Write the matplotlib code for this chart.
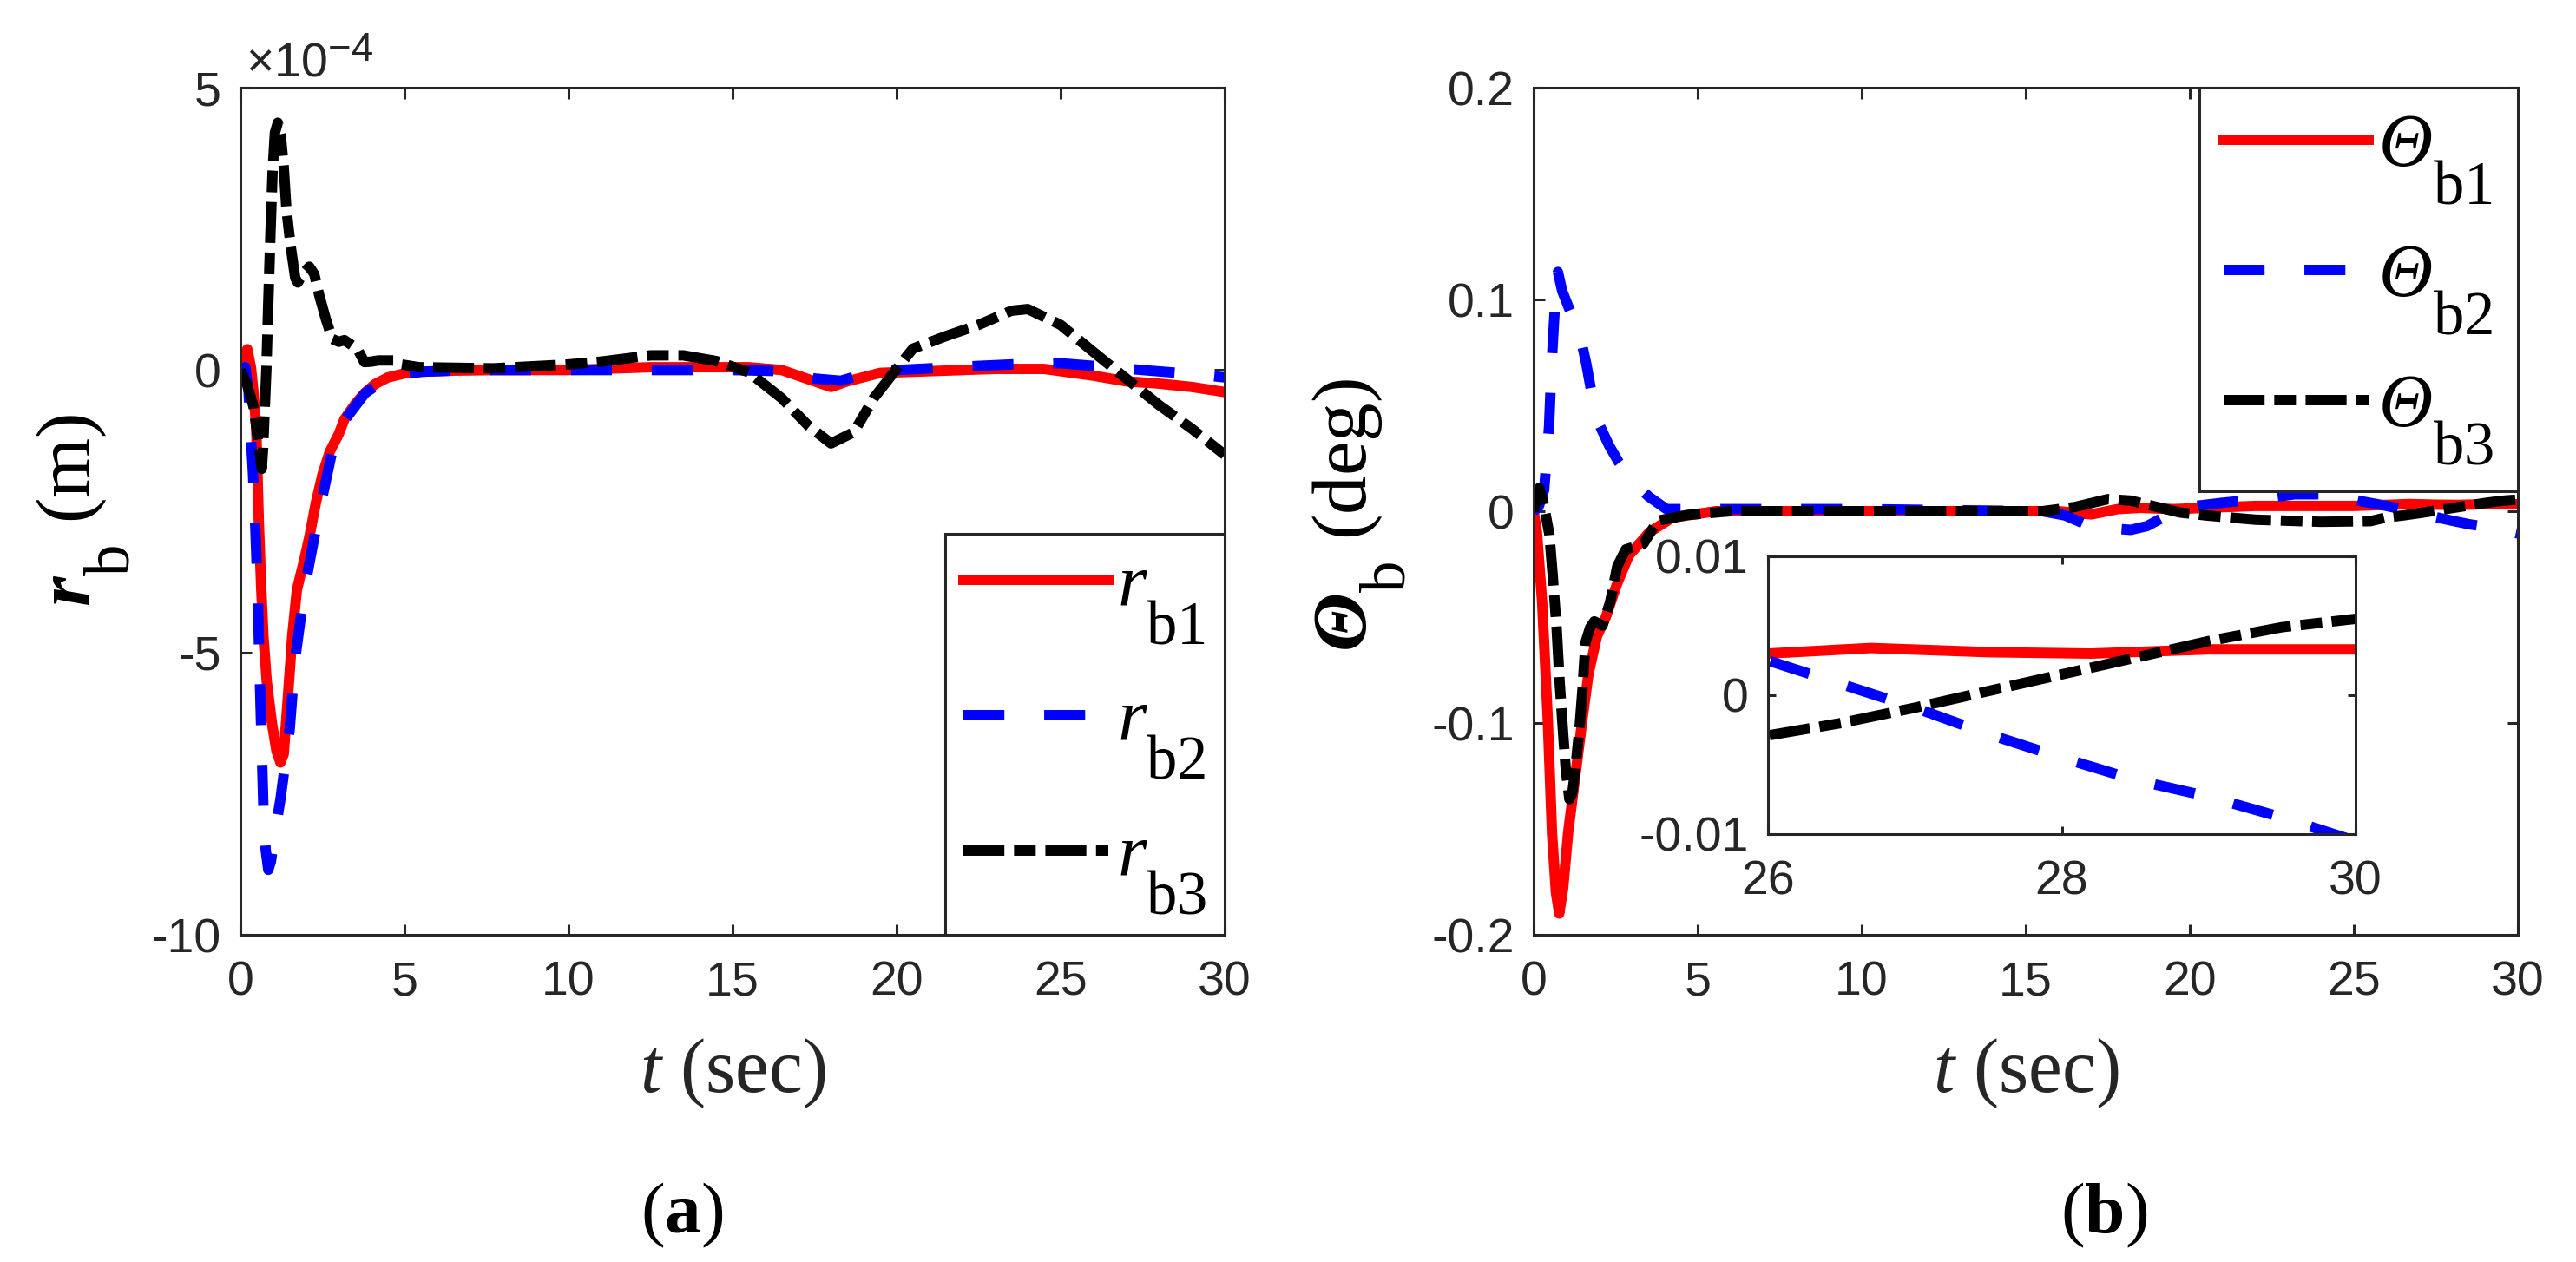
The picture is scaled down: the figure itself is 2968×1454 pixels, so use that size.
"""
Two-panel response plot: r_b (m) and Theta_b (deg) versus time, with a zoom inset
"""

import matplotlib
matplotlib.use("Agg")
import matplotlib.pyplot as plt
import matplotlib._mathtext as mathtext_impl
from matplotlib.ticker import FuncFormatter

# ---------------------------------------------------------------- data
# panel (a): r_b in units of 1e-4 m
t_rb1 = [0, 0.1, 0.21, 0.32, 0.4, 0.48, 0.56, 0.63, 0.7, 0.8, 0.96, 1.1, 1.22,
         1.32, 1.45, 1.58, 1.72, 1.8, 1.95, 2.11, 2.3, 2.5, 2.72, 3.0, 3.17,
         3.5, 3.78, 4.1, 4.5, 5.0, 5.55, 6.5, 7.75, 10, 12.5, 15.5, 16.5, 17.5,
         18, 18.5, 19.5, 20.5, 23, 24.5, 26, 27, 28, 29, 30]
r_b1 = [0, 0.25, 0.37, 0.05, -0.4, -1.0, -2.67, -3.8, -4.7, -5.5, -6.25, -6.75,
        -6.95, -6.8, -5.77, -4.7, -3.9, -3.7, -3.35, -2.93, -2.35, -1.85, -1.45,
        -1.13, -0.87, -0.6, -0.41, -0.25, -0.13, -0.06, -0.03, -0.01, 0, 0,
        0.05, 0.05, 0, -0.2, -0.3, -0.2, -0.05, -0.03, 0.02, 0.02, -0.1, -0.2,
        -0.24, -0.3, -0.39]

t_rb2 = [0, 0.15, 0.25, 0.32, 0.38, 0.45, 0.53, 0.58, 0.64, 0.7, 0.77, 0.85,
         0.93, 1.05, 1.22, 1.5, 1.67, 1.96, 2.36, 2.8, 3.2, 3.8, 4.5, 5.5, 7,
         10, 15, 16.5, 17.5, 18.3, 19, 20, 22, 23.5, 25, 26.5, 27.5, 29, 30]
r_b2 = [0, 0.05, -0.4, -1.2, -1.8, -2.72, -3.99, -5.23, -6.5, -7.74, -8.5,
        -8.85, -8.7, -8.2, -7.6, -6.37, -5.11, -3.86, -2.63, -1.43, -0.87,
        -0.41, -0.13, -0.03, 0, 0, 0, -0.02, -0.15, -0.19, -0.07, 0, 0.06, 0.1,
        0.12, 0.05, 0, -0.07, -0.13]

t_rb3 = [0, 0.2, 0.4, 0.55, 0.65, 0.69, 0.79, 0.85, 0.92, 0.98, 1.05, 1.14,
         1.23, 1.32, 1.4, 1.53, 1.67, 1.75, 1.9, 2.1, 2.25, 2.4, 2.6, 2.8, 3.0,
         3.17, 3.57, 3.78, 4.0, 4.2, 4.66, 4.9, 5.45, 7.7, 10, 11, 12.5, 13.5,
         14.5, 15.5, 16.5, 17.3, 18, 18.7, 19.3, 20, 20.5, 21.5, 22.5, 23.5, 24,
         25, 26, 27, 28, 29, 30]
r_b3 = [0, -0.25, -0.65, -1.3, -1.75, -1.4, 0, 1.2, 2.5, 3.5, 4.2, 4.38, 4.15,
        3.6, 2.86, 2.2, 1.63, 1.55, 1.7, 1.83, 1.7, 1.33, 0.91, 0.55, 0.5,
        0.53, 0.37, 0.14, 0.15, 0.17, 0.17, 0.1, 0.05, 0.03, 0.1, 0.15, 0.26,
        0.26, 0.16, -0.04, -0.5, -0.98, -1.3, -1.1, -0.5, 0.02, 0.38, 0.6, 0.8,
        1.05, 1.08, 0.8, 0.32, -0.15, -0.62, -1.04, -1.5]

# panel (b): Theta_b in deg
t_th1 = [0, 0.1, 0.26, 0.43, 0.56, 0.68, 0.78, 0.9, 1.05, 1.27, 1.49, 1.67,
         1.93, 2.2, 2.55, 2.9, 3.52, 4.23, 5.55, 10, 15, 16, 17, 17.8, 18.5,
         19.5, 20.5, 22, 25, 26, 26.7, 27.5, 28.2, 29, 30]
th_b1 = [0, -0.01, -0.043, -0.098, -0.152, -0.18, -0.19, -0.178, -0.152,
         -0.125, -0.098, -0.077, -0.059, -0.05, -0.034, -0.021, -0.01, -0.003,
         0, 0, 0, 0, -0.0015, 0.001, 0.0016, 0.001, 0.0016, 0.0025, 0.0025,
         0.003, 0.0034, 0.0031, 0.003, 0.0033, 0.0033]

t_th2 = [0, 0.15, 0.32, 0.47, 0.55, 0.66, 0.74, 0.87, 1.1, 1.4, 1.6, 1.8, 2.0,
         2.3, 2.6, 3.1, 3.5, 4.05, 5, 10, 15.5, 16.2, 16.8, 17.5, 18.2, 18.7,
         19.3, 19.9, 21, 22.1, 23.2, 24.2, 25.3, 26, 26.5, 27, 27.5, 28, 28.5,
         29, 29.5, 30]
th_b2 = [0, 0.002, 0.01, 0.04, 0.07, 0.1, 0.113, 0.104, 0.095, 0.084, 0.07,
         0.053, 0.041, 0.031, 0.023, 0.013, 0.007, 0.001, 0.001, 0.001, 0,
         -0.002, -0.006, -0.008, -0.0088, -0.007, -0.002, 0.002, 0.004, 0.0057,
         0.008, 0.008, 0.0045, 0.0025, 0.0008, -0.0009, -0.0028, -0.0045,
         -0.0061, -0.0073, -0.0088, -0.0105]

t_th3 = [0, 0.1, 0.17, 0.3, 0.48, 0.58, 0.7, 0.79, 0.9, 0.98, 1.09, 1.18, 1.27,
         1.4, 1.49, 1.58, 1.72, 1.85, 2.1, 2.33, 2.55, 2.81, 3.34, 3.78, 4.67,
         6, 10, 15.5, 16.5, 17.5, 18.2, 19, 19.7, 20.5, 22, 24, 25.5, 26, 26.5,
         27, 27.5, 28, 28.5, 29, 29.5, 30]
th_b3 = [0, 0.007, 0.011, 0.004, -0.011, -0.03, -0.055, -0.08, -0.105, -0.122,
         -0.136, -0.133, -0.122, -0.102, -0.084, -0.062, -0.055, -0.052, -0.054,
         -0.043, -0.026, -0.018, -0.0155, -0.0045, -0.0018, 0, 0, 0, 0.002,
         0.0057, 0.005, 0.002, -0.0006, -0.002, -0.004, -0.005, -0.0047,
         -0.0029, -0.002, -0.0009, 0.0003, 0.0015, 0.0027, 0.0039, 0.0049,
         0.0055]

labels_r = [r'$r_{\mathsf{b1}}$', r'$r_{\mathsf{b2}}$', r'$r_{\mathsf{b3}}$']
labels_th = [r'$\mathcal{\Theta}_{\mathsf{b1}}$', r'$\mathcal{\Theta}_{\mathsf{b2}}$',
             r'$\mathcal{\Theta}_{\mathsf{b3}}$']

# ---------------------------------------------------------------- style
plt.rcParams['font.family'] = ['Liberation Sans', 'DejaVu Sans']
plt.rcParams['axes.unicode_minus'] = False
plt.rcParams['mathtext.fontset'] = 'custom'
plt.rcParams['mathtext.rm'] = 'Liberation Sans'
plt.rcParams['mathtext.it'] = 'Liberation Serif:italic'
plt.rcParams['mathtext.bf'] = 'Liberation Serif:bold:italic'
plt.rcParams['mathtext.sf'] = 'Liberation Serif'
plt.rcParams['mathtext.cal'] = 'Liberation Serif:italic'
plt.rcParams['mathtext.tt'] = 'Liberation Serif:bold'
plt.rcParams['lines.scale_dashes'] = False

# MATLAB-like subscripts: bigger and dropped lower than the TeX default
mathtext_impl.SHRINK_FACTOR = 0.82
mathtext_impl.FontConstantsBase.sub1 = 1.1

DARK = '#262626'
LW = 8.6
styles = [
    dict(color=(1, 0, 0), linestyle='-'),
    dict(color=(0, 0, 1), linestyle=(0, (34, 33))),
    dict(color=(0, 0, 0), linestyle=(0, (34, 8, 18, 8))),
]

W, H = 2968, 1454
fig = plt.figure(figsize=(W / 100, H / 100), dpi=100)


def px_box(x0, y0, x1, y1):
    """pixel box (top-left origin) -> figure fraction rect"""
    return [x0 / W, 1 - y1 / H, (x1 - x0) / W, (y1 - y0) / H]


def style_axes(ax, ticklen, xpad=21, ypad=16):
    for sp in ax.spines.values():
        sp.set_linewidth(2.2)
        sp.set_color(DARK)
    ax.tick_params(direction='in', length=ticklen, width=2.2, top=True,
                   right=True, labelsize=40, colors=DARK)
    ax.tick_params(axis='x', pad=xpad)
    ax.tick_params(axis='y', pad=ypad)
    ax.xaxis.set_major_formatter(FuncFormatter(lambda v, p: '%g' % v))
    ax.yaxis.set_major_formatter(FuncFormatter(lambda v, p: '%g' % round(v, 6)))


def add_legend(ax, loc, spacing, pad):
    leg = ax.legend(loc=loc, borderaxespad=0, fancybox=False, framealpha=1,
                    edgecolor=DARK, fontsize=62, handlelength=1.94,
                    handletextpad=0.12, labelspacing=spacing, borderpad=pad)
    leg.get_frame().set_linewidth(2.2)
    return leg


# ---------------------------------------------------------------- panel (a)
ax1 = fig.add_axes(px_box(277, 101, 1411, 1077))
for t, y, lab, st in zip([t_rb1, t_rb2, t_rb3], [r_b1, r_b2, r_b3], labels_r, styles):
    ax1.plot(t, y, lw=LW, label=lab, dash_capstyle='butt', **st)
ax1.set_xlim(0, 30)
ax1.set_ylim(-10, 5)
ax1.set_xticks(range(0, 31, 5))
ax1.set_yticks([-10, -5, 0, 5])
style_axes(ax1, 9)
ax1.text(0.005, 1.013, r'$\times10^{-4}$', transform=ax1.transAxes, ha='left',
         va='baseline', fontsize=40, color=DARK)
add_legend(ax1, 'lower right', 0.55, 0.24)

# ---------------------------------------------------------------- panel (b)
ax2 = fig.add_axes(px_box(1767, 101, 2901, 1077))
for t, y, lab, st in zip([t_th1, t_th2, t_th3], [th_b1, th_b2, th_b3], labels_th, styles):
    ax2.plot(t, y, lw=LW, label=lab, dash_capstyle='butt', **st)
ax2.set_xlim(0, 30)
ax2.set_ylim(-0.2, 0.2)
ax2.set_xticks(range(0, 31, 5))
ax2.set_yticks([-0.2, -0.1, 0, 0.1, 0.2])
style_axes(ax2, 9)
add_legend(ax2, 'upper right', 0.48, 0.33)

# inset: zoom on the last seconds
axi = fig.add_axes(px_box(2037, 641, 2714, 961))
axi.set_zorder(10)
for t, y, st in zip([t_th1, t_th2, t_th3], [th_b1, th_b2, th_b3], styles):
    axi.plot(t, y, lw=LW, dash_capstyle='butt', **st)
axi.set_xlim(26, 30)
axi.set_ylim(-0.01, 0.01)
axi.set_xticks([26, 28, 30])
axi.set_yticks([-0.01, 0, 0.01])
style_axes(axi, 6.5)

# ---------------------------------------------------------------- labels
serif = 'Liberation Serif'
fig.text(96 / W, 1 - 588 / H, r'$\mathbf{r}_{\mathsf{b}}$ (m)', rotation=90,
         ha='center', va='center', fontsize=64, family=serif)
fig.text(1566 / W, 1 - 594 / H, r'$\mathbf{\Theta}_{\mathsf{b}}$ (deg)', rotation=90,
         ha='center', va='center', fontsize=64, family=serif)
for xc in (844, 2334):
    fig.text(xc / W, 1 - 1237 / H, r'$t$ (sec)', ha='center', va='center',
             fontsize=63, family=serif, color=DARK)
fig.text(786 / W, 1 - 1400 / H, r'($\mathtt{a}$)', ha='center', va='center',
         fontsize=60, family=serif)
fig.text(2424 / W, 1 - 1400 / H, r'($\mathtt{b}$)', ha='center', va='center',
         fontsize=60, family=serif)

plt.savefig('out.png', dpi=100)
plt.close()
